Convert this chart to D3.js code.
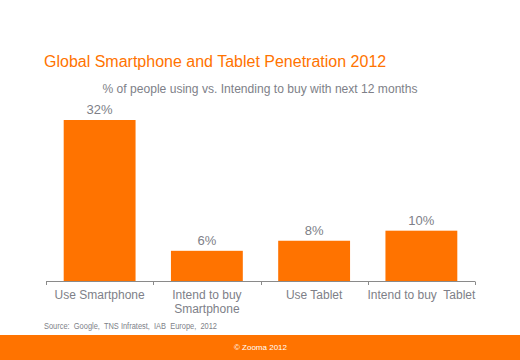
<!DOCTYPE html>
<html><head><meta charset="utf-8">
<script src="https://cdn.jsdelivr.net/npm/d3@7"></script>
<style>html,body{margin:0;padding:0;background:#fff;}svg{display:block;}</style>
</head><body>
<script>
const categories = [["Use Smartphone"], ["Intend to buy", "Smartphone"], ["Use Tablet"], ["Intend to buy  Tablet"]];
const values = [32, 6, 8, 10];
const valueLabels = ["32%", "6%", "8%", "10%"];
const title = "Global Smartphone and Tablet Penetration 2012";
const subtitle = "% of people using vs. Intending to buy with next 12 months";
const source = "Source:  Google,  TNS Infratest,  IAB  Europe,  2012";
const footer = "© Zooma 2012";

const W = 520, H = 360;
const orange = "#FF7300", gray = "#7e7f88";
const svg = d3.select("body").append("svg").attr("width", W).attr("height", H)
  .style("font-family", "'Liberation Sans', Arial, sans-serif");

const x = d3.scaleBand().domain(d3.range(categories.length)).range([46, 475]).paddingInner(0.33).paddingOuter(0.165);
const y = d3.scaleLinear().domain([0, 32]).range([281, 120]);

svg.append("text").attr("x", 44).attr("y", 67).attr("fill", orange).attr("font-size", 16).text(title);
svg.append("text").attr("x", 260).attr("y", 93).attr("text-anchor", "middle").attr("fill", gray)
  .attr("font-size", 12).attr("textLength", 315).attr("lengthAdjust", "spacingAndGlyphs").text(subtitle);

svg.selectAll("rect.bar").data(values).join("rect").attr("class", "bar")
  .attr("x", (d, i) => x(i)).attr("width", x.bandwidth())
  .attr("y", d => y(d)).attr("height", d => y(0) - y(d)).attr("fill", orange);

svg.selectAll("text.val").data(values).join("text").attr("class", "val")
  .attr("x", (d, i) => x(i) + x.bandwidth() / 2).attr("y", d => y(d) - 6)
  .attr("text-anchor", "middle").attr("fill", gray).attr("font-size", 13)
  .text((d, i) => valueLabels[i]);

// axis
const step = (475 - 46) / categories.length;
const ax = svg.append("g").attr("stroke", "#8a8a8a").attr("stroke-width", 1);
ax.append("line").attr("x1", 46).attr("x2", 475).attr("y1", 281.5).attr("y2", 281.5);
d3.range(categories.length + 1).forEach(i => {
  const xx = Math.round(46 + i * step) + 0.5;
  ax.append("line").attr("x1", xx).attr("x2", xx).attr("y1", 281.5).attr("y2", 285);
});

const cl = svg.selectAll("text.cat").data(categories).join("text").attr("class", "cat")
  .attr("text-anchor", "middle").attr("fill", gray).attr("font-size", 12)
  .attr("transform", (d, i) => `translate(${x(i) + x.bandwidth() / 2},299)`);
cl.selectAll("tspan").data(d => d).join("tspan").attr("x", 0).attr("dy", (d, j) => j === 0 ? 0 : 14)
  .attr("xml:space", "preserve").style("white-space", "pre").text(d => d);

svg.append("text").attr("x", 44).attr("y", 329).attr("fill", gray).attr("font-size", 8.5)
  .attr("textLength", 173).attr("lengthAdjust", "spacingAndGlyphs").style("white-space", "pre").text(source);

svg.append("rect").attr("x", 0).attr("y", 335).attr("width", W).attr("height", H - 335).attr("fill", orange);
svg.append("text").attr("x", 260.5).attr("y", 350).attr("text-anchor", "middle").attr("fill", "#fff")
  .attr("font-size", 8).text(footer);
</script>
</body></html>
